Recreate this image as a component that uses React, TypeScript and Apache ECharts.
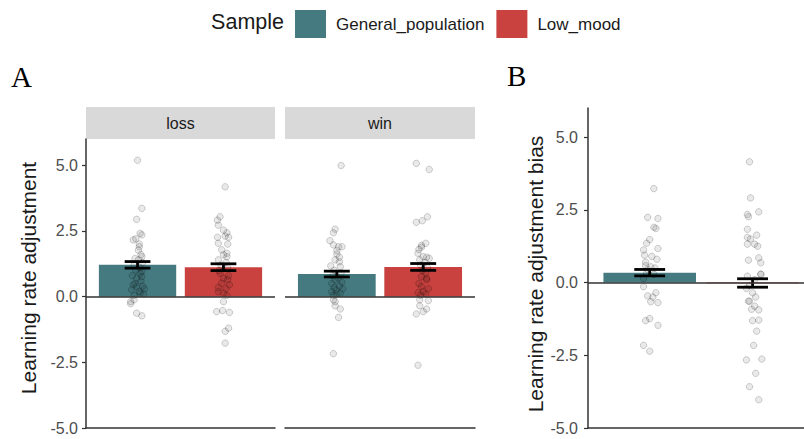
import React, { useEffect, useRef } from "react";
import * as echarts from "echarts";

// ---------- data ----------
const samples = ["General_population", "Low_mood"];
const facetLabels = ["loss", "win"];
const yTicks = [-5, -2.5, 0, 2.5, 5];
const yTitleA = "Learning rate adjustment";
const yTitleB = "Learning rate adjustment bias";
const legendTitle = "Sample";

const lossMeans = [1.21, 1.12];
const lossSE = [0.125, 0.13];
const winMeans = [0.86, 1.13];
const winSE = [0.11, 0.13];
const biasMeans = [0.34, -0.015];
const biasSE = [0.11, 0.145];

// [jitter offset in category units, value]
const lossGeneral = [
  [0.0, 5.19], [0.05, 3.36], [-0.01, 2.94], [0.03, 2.41], [0.05, 2.35], [-0.02, 2.2], [-0.05, 2.16],
  [0.02, 2.0], [0.02, 1.9], [0.01, 1.77], [0.04, 1.6], [0.05, 1.52], [-0.03, 1.45], [0.01, 1.4],
  [0.06, 1.3], [-0.04, 1.2], [0.03, 1.1], [-0.02, 1.0], [0.05, 0.95], [0.03, 0.89], [-0.06, 0.8],
  [0.05, 0.76], [-0.01, 0.7], [0.04, 0.6], [-0.03, 0.5], [-0.05, 0.45], [0.06, 0.4], [-0.01, 0.38],
  [0.08, 0.3], [-0.07, 0.26], [0.02, 0.2], [0.03, 0.13], [0.07, 0.1], [-0.04, 0.05], [-0.04, -0.12],
  [-0.08, -0.19], [-0.08, -0.27], [-0.01, -0.63], [0.05, -0.73],
];
const lossLow = [
  [0.02, 4.18], [-0.04, 3.04], [-0.07, 2.91], [-0.06, 2.72], [0.0, 2.53], [0.04, 2.43], [0.02, 2.3],
  [-0.07, 2.26], [0.06, 2.26], [-0.06, 2.03], [0.05, 2.0], [-0.02, 1.78], [0.04, 1.65], [0.0, 1.59],
  [0.04, 1.52], [-0.06, 1.4], [0.03, 1.3], [-0.03, 1.2], [0.05, 1.1], [-0.05, 1.0], [-0.04, 0.89],
  [0.06, 0.8], [0.0, 0.7], [0.05, 0.65], [-0.02, 0.51], [0.07, 0.45], [-0.06, 0.35], [0.03, 0.3],
  [-0.06, 0.19], [0.0, 0.13], [0.04, 0.05], [0.0, -0.19], [-0.01, -0.53], [-0.08, -0.57], [0.07, -0.6],
  [0.06, -1.2], [0.02, -1.32], [0.02, -1.77],
];
const winGeneral = [
  [0.05, 4.99], [-0.02, 2.57], [-0.04, 2.43], [-0.08, 2.13], [-0.04, 1.97], [0.02, 1.9], [0.06, 1.9],
  [0.0, 1.75], [0.0, 1.62], [0.03, 1.5], [-0.02, 1.4], [0.03, 1.33], [-0.07, 1.17], [0.04, 1.14],
  [-0.03, 1.0], [0.05, 0.9], [-0.05, 0.8], [0.02, 0.7], [-0.02, 0.64], [0.06, 0.55], [-0.06, 0.5],
  [0.03, 0.4], [-0.03, 0.35], [0.07, 0.3], [-0.01, 0.25], [-0.06, 0.19], [0.04, 0.13], [0.0, 0.1],
  [-0.04, 0.05], [-0.04, -0.12], [-0.02, -0.19], [-0.02, -0.35], [0.04, -0.47], [0.02, -0.79],
  [-0.04, -2.17],
];
const winLow = [
  [-0.08, 5.07], [0.07, 4.84], [0.05, 3.04], [-0.01, 2.89], [-0.08, 2.83], [0.03, 2.03], [-0.02, 1.95],
  [-0.02, 1.88], [-0.05, 1.8], [-0.06, 1.65], [0.0, 1.52], [0.04, 1.5], [0.07, 1.46], [-0.04, 1.4],
  [0.02, 1.3], [-0.03, 1.2], [0.05, 1.1], [-0.01, 1.0], [0.03, 0.9], [-0.02, 0.76], [0.04, 0.7],
  [0.04, 0.64], [-0.05, 0.5], [-0.02, 0.38], [0.06, 0.3], [0.0, 0.19], [-0.06, 0.15], [0.03, 0.1],
  [-0.03, 0.05], [-0.04, -0.12], [0.06, -0.15], [-0.04, -0.35], [0.04, -0.47], [0.0, -0.57],
  [-0.08, -0.66], [-0.06, -2.61],
];
const biasGeneral = [
  [0.04, 3.23], [-0.02, 2.24], [0.08, 2.2], [0.04, 1.9], [0.06, 1.86], [0.0, 1.48], [-0.03, 1.35],
  [0.08, 1.17], [-0.06, 1.12], [-0.05, 0.94], [0.02, 0.9], [0.07, 0.8], [-0.04, 0.7], [-0.04, 0.58],
  [0.01, 0.54], [0.05, 0.5], [-0.02, 0.45], [-0.03, 0.32], [0.04, 0.28], [-0.06, 0.14], [-0.06, -0.14],
  [0.06, -0.35], [-0.02, -0.46], [0.03, -0.5], [0.01, -0.66], [0.08, -0.69], [0.0, -1.24],
  [-0.04, -1.31], [0.08, -1.47], [-0.06, -2.16], [0.0, -2.36],
];
const biasLow = [
  [-0.03, 4.15], [-0.02, 2.91], [0.06, 2.43], [-0.05, 2.34], [-0.04, 2.26], [-0.05, 1.83], [0.04, 1.63],
  [-0.05, 1.55], [-0.02, 1.5], [-0.05, 1.32], [0.02, 1.32], [0.05, 1.25], [0.06, 0.85], [-0.04, 0.77],
  [0.08, 0.68], [0.08, 0.29], [0.08, 0.28], [-0.05, 0.22], [0.02, 0.1], [-0.03, -0.1], [-0.06, -0.2],
  [0.0, -0.35], [0.03, -0.5], [-0.04, -0.64], [-0.03, -0.64], [0.02, -0.81], [-0.01, -0.92],
  [0.06, -0.94], [0.06, -1.29], [0.0, -1.31], [0.04, -1.67], [0.01, -2.16], [0.09, -2.63],
  [-0.06, -2.66], [0.03, -3.12], [-0.03, -3.58], [0.06, -4.03],
];

// ---------- styles / layout ----------
const COLORS = ["#457B80", "#C9423F"];
const FONT = "Liberation Sans, Arial, sans-serif";
const SERIF = "Liberation Serif, Times New Roman, serif";
const AXIS_COLOR = "#333333";
const LABEL_COLOR = "#4D4D4D";
const BAR_HALF = 0.45;
const CAP_HALF = 0.15;

const grids = [
  { left: 86, top: 139, width: 189, height: 289 },
  { left: 285, top: 139, width: 190, height: 289 },
  { left: 588, top: 108, width: 216, height: 320 },
];
const xRanges = [
  [0.4, 2.6],
  [0.4, 2.6],
  [0.4, 2.5],
];

const panels = [
  { means: lossMeans, se: lossSE, points: [lossGeneral, lossLow] },
  { means: winMeans, se: winSE, points: [winGeneral, winLow] },
  { means: biasMeans, se: biasSE, points: [biasGeneral, biasLow] },
];

function barRender(params: any, api: any) {
  const x = api.value(0);
  const y = api.value(1);
  const p0 = api.coord([x - BAR_HALF, 0]);
  const p1 = api.coord([x + BAR_HALF, y]);
  return {
    type: "rect",
    shape: {
      x: p0[0],
      y: Math.min(p0[1], p1[1]),
      width: p1[0] - p0[0],
      height: Math.max(Math.abs(p1[1] - p0[1]), 0.8),
    },
    style: { fill: api.visual("color") },
  };
}

function errRender(params: any, api: any) {
  const x = api.value(0);
  const m = api.value(1);
  const s = api.value(2);
  const top = api.coord([x, m + s]);
  const bot = api.coord([x, m - s]);
  const l = api.coord([x - CAP_HALF, m])[0];
  const r = api.coord([x + CAP_HALF, m])[0];
  const style = { stroke: "#000000", lineWidth: 2.8 };
  return {
    type: "group",
    children: [
      { type: "line", shape: { x1: top[0], y1: top[1], x2: bot[0], y2: bot[1] }, style },
      { type: "line", shape: { x1: l, y1: top[1], x2: r, y2: top[1] }, style },
      { type: "line", shape: { x1: l, y1: bot[1], x2: r, y2: bot[1] }, style },
    ],
  };
}

export default function App() {
  const ref = useRef<HTMLDivElement>(null);

  useEffect(() => {
    if (!ref.current) return;
    const chart = echarts.init(ref.current, undefined, { renderer: "svg" });

    const series: any[] = [];
    panels.forEach((p, gi) => {
      samples.forEach((name, si) => {
        series.push({
          type: "custom",
          name,
          xAxisIndex: gi,
          yAxisIndex: gi,
          z: 2,
          itemStyle: { color: COLORS[si] },
          encode: { x: 0, y: 1 },
          renderItem: barRender,
          data: [[si + 1, p.means[si]]],
          silent: true,
        });
      });
      series.push({
        type: "scatter",
        xAxisIndex: gi,
        yAxisIndex: gi,
        z: 3,
        symbolSize: 6.5,
        silent: true,
        itemStyle: {
          color: "rgba(0,0,0,0.11)",
          borderColor: "rgba(0,0,0,0.22)",
          borderWidth: 1,
        },
        data: p.points.flatMap((pts, si) => pts.map(([j, v]) => [si + 1 + j, v])),
        markLine: {
          silent: true,
          symbol: "none",
          label: { show: false },
          lineStyle: { color: AXIS_COLOR, width: 1.5, type: "solid" },
          data: [{ yAxis: 0 }],
        },
      });
      series.push({
        type: "custom",
        xAxisIndex: gi,
        yAxisIndex: gi,
        z: 4,
        silent: true,
        encode: { x: 0, y: 1 },
        renderItem: errRender,
        data: samples.map((_, si) => [si + 1, p.means[si], p.se[si]]),
      });
    });

    const yAxisBase = (
      gi: number,
      show: boolean,
      name: string,
      nameGap: number,
      margin: number,
      namePad: number[]
    ) => ({
      type: "value",
      gridIndex: gi,
      min: -5,
      max: 6,
      interval: 2.5,
      show,
      name,
      nameLocation: "middle",
      nameGap,
      nameTextStyle: { fontSize: 21, color: "#1A1A1A", fontFamily: FONT, padding: namePad },
      axisLine: { show: true, lineStyle: { color: AXIS_COLOR, width: 1.5 } },
      axisTick: { show: true, length: 4, customValues: yTicks, lineStyle: { color: AXIS_COLOR, width: 1.2 } },
      axisLabel: {
        show: true,
        customValues: yTicks,
        margin,
        fontSize: 16,
        color: LABEL_COLOR,
        fontFamily: FONT,
        formatter: (v: number) => v.toFixed(1),
      },
      splitLine: { show: false },
    });

    const option: any = {
      animation: false,
      backgroundColor: "#FFFFFF",
      grid: grids.map((g) => ({ ...g, containLabel: false })),
      xAxis: grids.map((_, gi) => ({
        type: "value",
        gridIndex: gi,
        min: xRanges[gi][0],
        max: xRanges[gi][1],
        axisLine: { show: true, onZero: false, lineStyle: { color: AXIS_COLOR, width: 1.5 } },
        axisTick: { show: false },
        axisLabel: { show: false },
        splitLine: { show: false },
      })),
      yAxis: [
        yAxisBase(0, true, yTitleA, 47, 8, [0, 0, 0, 11]),
        yAxisBase(1, false, "", 0, 8, [0, 0, 0, 0]),
        yAxisBase(2, true, yTitleB, 42, 10, [0, 12, 0, 0]),
      ],
      legend: {
        left: 295,
        top: 10,
        padding: 0,
        itemWidth: 31,
        itemHeight: 28,
        itemGap: 12,
        icon: "rect",
        selectedMode: false,
        data: samples,
        textStyle: { fontSize: 17, color: "#1A1A1A", fontFamily: FONT, padding: [0, 0, 0, 5] },
      },
      graphic: [
        {
          type: "text",
          right: 804 - 284,
          top: 11,
          style: { text: legendTitle, fontSize: 21.5, fill: "#1A1A1A", fontFamily: FONT },
        },
        {
          type: "text",
          left: 11,
          top: 62,
          style: { text: "A", fontSize: 29, fill: "#000000", fontFamily: SERIF },
        },
        {
          type: "text",
          left: 507,
          top: 61,
          style: { text: "B", fontSize: 29, fill: "#000000", fontFamily: SERIF },
        },
        ...facetLabels.flatMap((lab, i) => [
          {
            type: "rect",
            shape: { x: grids[i].left, y: 107, width: grids[i].width, height: 32 },
            style: { fill: "#D9D9D9" },
          },
          {
            type: "text",
            x: grids[i].left + grids[i].width / 2,
            y: 123,
            style: {
              text: lab,
              fontSize: 16,
              fill: "#1A1A1A",
              fontFamily: FONT,
              align: "center",
              verticalAlign: "middle",
            },
          },
        ]),
      ],
      series,
    };

    chart.setOption(option);
    return () => chart.dispose();
  }, []);

  return (
    <div
      ref={ref}
      style={{ position: "absolute", left: 0, top: 0, width: 804, height: 439, background: "#fff" }}
    />
  );
}
